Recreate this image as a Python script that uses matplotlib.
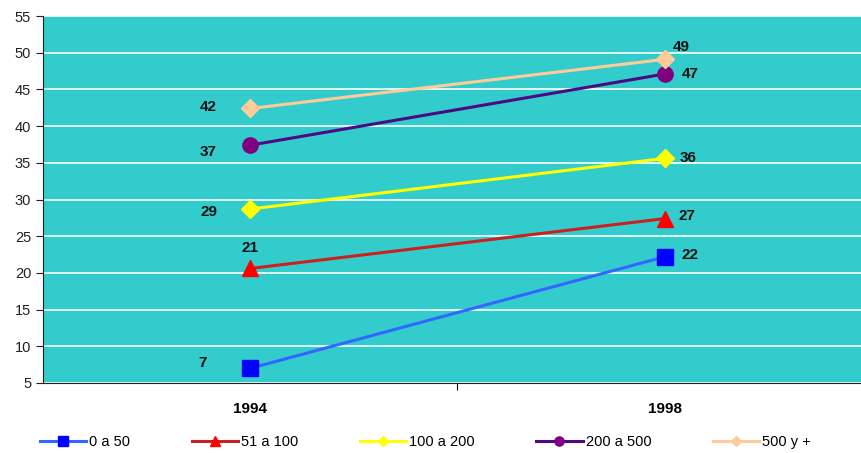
import matplotlib.pyplot as plt

# data
years = ['1994', '1998']
series_names = ['0 a 50', '51 a 100', '100 a 200', '200 a 500', '500 y +']
v_0_50 = [7.0, 22.2]
v_51_100 = [20.6, 27.4]
v_100_200 = [28.7, 35.6]
v_200_500 = [37.4, 47.1]
v_500_mas = [42.4, 49.1]
yticks = [5, 10, 15, 20, 25, 30, 35, 40, 45, 50, 55]

plt.rcParams['font.family'] = ['Liberation Sans', 'DejaVu Sans']

fig = plt.figure(figsize=(8.61, 4.53), dpi=100)
ax = fig.add_axes([43/861, 1 - 383/453, (872 - 43)/861, (383 - 16)/453])
ax.set_facecolor('#33CCCC')

xs = [0.5, 1.5]
styles = [
    (v_0_50, '#3366FF', '#0000FF', 's', 11),
    (v_51_100, '#CC2020', '#FF0000', '^', 12),
    (v_100_200, '#FFFF00', '#FFFF00', 'D', 9),
    (v_200_500, '#4B0A82', '#800080', 'o', 11),
    (v_500_mas, '#FFCC99', '#FFCC99', 'D', 9),
]
for (vals, lc, mc, mk, ms), name in zip(styles, series_names):
    ax.plot(xs, vals, color=lc, lw=2.2, marker=mk, markersize=ms,
            markerfacecolor=mc, markeredgecolor=mc, label=name, zorder=3)

# data labels (offsets in points)
offs_1994 = [(-34, 4), (0, 15), (-30, -2), (-30, -5), (-30, 1)]
offs_1998 = [(18, 1), (16, 2), (17, 0), (18, 0), (12, 9)]
for vals, o1, o2 in zip([v_0_50, v_51_100, v_100_200, v_200_500, v_500_mas], offs_1994, offs_1998):
    for x, v, o in zip(xs, vals, [o1, o2]):
        ax.annotate('%.0f' % v, (x, v), xytext=o, textcoords='offset points',
                    ha='center', va='center', fontsize=11, fontweight='bold', color='#111111')

ax.set_xlim(0, 2)
ax.set_ylim(5, 55)
ax.set_yticks(yticks)
ax.set_xticks([1])
ax.set_xticklabels([''])
ax.set_xticks(xs, minor=True)
ax.set_xticklabels(years, minor=True, fontweight='bold', fontsize=11)
ax.tick_params(axis='x', which='minor', length=0, pad=14)
ax.tick_params(axis='x', which='major', length=5, direction='out')
ax.tick_params(axis='y', length=5, direction='out', labelsize=10.5, colors='#222222')
ax.grid(axis='y', color='white', lw=1.2, zorder=1)
ax.set_axisbelow(True)
for s in ['top', 'right']:
    ax.spines[s].set_visible(False)
ax.spines['left'].set_color('#222222')
ax.spines['bottom'].set_color('#222222')

fig.legend(loc='lower center', bbox_to_anchor=(0.494, -0.02), ncol=5, frameon=False,
           fontsize=10.5, columnspacing=4.2, handlelength=3.2, handletextpad=0.2,
           markerscale=0.6)

fig.savefig('out.png', dpi=100)
